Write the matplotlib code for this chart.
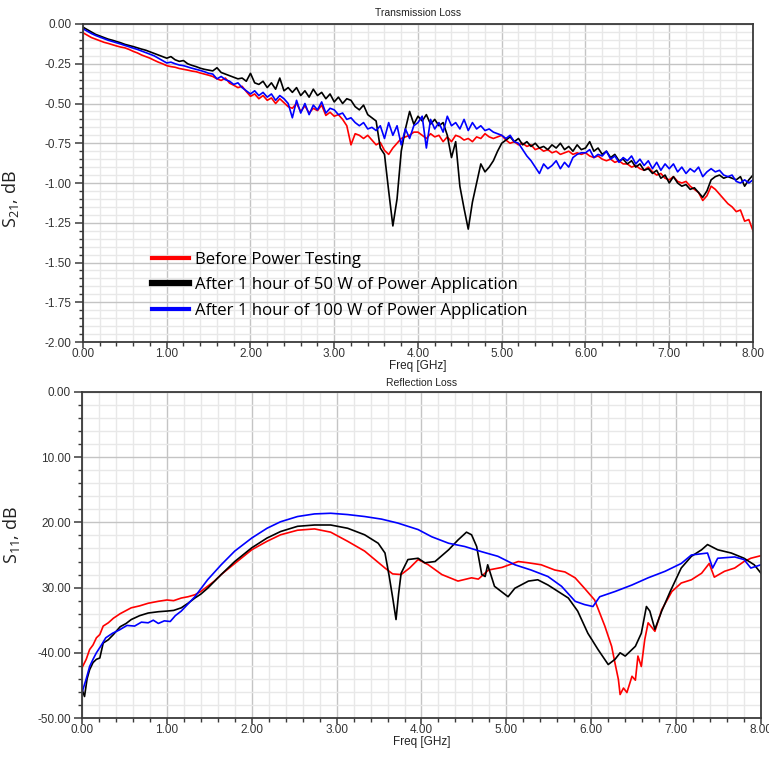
import numpy as np
import matplotlib
matplotlib.use("Agg")
import matplotlib.pyplot as plt
from matplotlib.ticker import MultipleLocator, FormatStrFormatter, FixedLocator, FixedFormatter
from matplotlib.lines import Line2D

plt.rcParams['axes.unicode_minus'] = False
plt.rcParams['mathtext.fontset'] = 'custom'
plt.rcParams['mathtext.rm'] = 'Open Sans'
plt.rcParams['mathtext.it'] = 'Open Sans'

# ---------------- Data: Transmission Loss (S21) ----------------
freq_s21 = np.round(np.arange(0, 8.001, 0.05), 2)

s21_before = [
    -0.055, -0.070, -0.085, -0.095, -0.105, -0.115, -0.122, -0.130, -0.138, -0.145,
    -0.150, -0.160, -0.172, -0.182, -0.195, -0.205, -0.215, -0.228, -0.240, -0.250,
    -0.262, -0.268, -0.272, -0.280, -0.285, -0.290, -0.296, -0.300, -0.308, -0.315,
    -0.322, -0.330, -0.345, -0.355, -0.340, -0.372, -0.385, -0.400, -0.392, -0.425,
    -0.455, -0.440, -0.470, -0.450, -0.480, -0.465, -0.500, -0.470, -0.495, -0.520,
    -0.530, -0.500, -0.550, -0.515, -0.560, -0.530, -0.545, -0.510, -0.575, -0.555,
    -0.580, -0.570, -0.600, -0.640, -0.760, -0.690, -0.700, -0.720, -0.700, -0.730,
    -0.760, -0.745, -0.795, -0.820, -0.780, -0.750, -0.720, -0.710, -0.700, -0.680,
    -0.680, -0.700, -0.720, -0.690, -0.710, -0.700, -0.740, -0.710, -0.740, -0.700,
    -0.710, -0.730, -0.720, -0.740, -0.710, -0.720, -0.690, -0.710, -0.720, -0.710,
    -0.700, -0.730, -0.750, -0.740, -0.760, -0.750, -0.770, -0.760, -0.790, -0.780,
    -0.800, -0.790, -0.810, -0.800, -0.820, -0.810, -0.800, -0.820, -0.810, -0.820,
    -0.810, -0.830, -0.840, -0.830, -0.850, -0.860, -0.850, -0.870, -0.860, -0.880,
    -0.880, -0.900, -0.890, -0.910, -0.920, -0.900, -0.930, -0.950, -0.940, -0.970,
    -0.980, -0.960, -0.990, -1.000, -0.990, -1.020, -1.040, -1.060, -1.110, -1.080,
    -1.020, -1.040, -1.070, -1.100, -1.130, -1.150, -1.180, -1.170, -1.240, -1.230,
    -1.300,
]

s21_50w = [
    -0.020, -0.035, -0.050, -0.065, -0.075, -0.085, -0.095, -0.102, -0.110, -0.118,
    -0.128, -0.135, -0.142, -0.150, -0.158, -0.165, -0.175, -0.185, -0.195, -0.205,
    -0.215, -0.205, -0.225, -0.235, -0.230, -0.250, -0.260, -0.268, -0.278, -0.285,
    -0.290, -0.295, -0.275, -0.305, -0.315, -0.325, -0.335, -0.345, -0.340, -0.360,
    -0.310, -0.370, -0.380, -0.360, -0.400, -0.370, -0.410, -0.340, -0.420, -0.400,
    -0.430, -0.400, -0.450, -0.420, -0.460, -0.410, -0.450, -0.430, -0.470, -0.440,
    -0.490, -0.460, -0.500, -0.470, -0.480, -0.520, -0.540, -0.510, -0.570, -0.590,
    -0.610, -0.780, -0.820, -1.050, -1.270, -1.100, -0.800, -0.660, -0.550, -0.630,
    -0.580, -0.610, -0.570, -0.630, -0.600, -0.640, -0.620, -0.700, -0.840, -0.740,
    -1.020, -1.160, -1.290, -1.120, -1.000, -0.880, -0.930, -0.900, -0.860, -0.800,
    -0.750, -0.730, -0.710, -0.740, -0.720, -0.760, -0.740, -0.770, -0.750, -0.780,
    -0.770, -0.790, -0.760, -0.780, -0.750, -0.790, -0.770, -0.800, -0.760, -0.790,
    -0.780, -0.740, -0.800, -0.780, -0.820, -0.800, -0.840, -0.820, -0.860, -0.850,
    -0.880, -0.860, -0.900, -0.880, -0.920, -0.910, -0.940, -0.920, -0.970, -0.950,
    -1.000, -0.960, -1.000, -1.020, -1.010, -1.040, -1.030, -1.060, -1.090, -1.050,
    -0.980, -0.960, -0.950, -0.970, -0.960, -0.970, -0.980, -0.960, -1.020, -0.980,
    -0.950,
]

s21_100w = [
    -0.030, -0.045, -0.060, -0.072, -0.082, -0.092, -0.102, -0.110, -0.118, -0.126,
    -0.135, -0.143, -0.152, -0.160, -0.170, -0.180, -0.190, -0.200, -0.215, -0.230,
    -0.245, -0.240, -0.250, -0.258, -0.262, -0.270, -0.278, -0.285, -0.292, -0.300,
    -0.310, -0.315, -0.345, -0.330, -0.350, -0.360, -0.380, -0.370, -0.400, -0.420,
    -0.440, -0.420, -0.450, -0.430, -0.460, -0.440, -0.480, -0.450, -0.470, -0.500,
    -0.590, -0.480, -0.560, -0.500, -0.570, -0.510, -0.540, -0.490, -0.560, -0.530,
    -0.540, -0.570, -0.560, -0.600, -0.590, -0.620, -0.640, -0.620, -0.660, -0.650,
    -0.670, -0.640, -0.720, -0.620, -0.700, -0.640, -0.760, -0.660, -0.720, -0.640,
    -0.620, -0.580, -0.780, -0.600, -0.660, -0.620, -0.680, -0.580, -0.640, -0.620,
    -0.660, -0.600, -0.670, -0.620, -0.660, -0.640, -0.670, -0.660, -0.680, -0.690,
    -0.700, -0.720, -0.700, -0.740, -0.750, -0.790, -0.830, -0.860, -0.900, -0.940,
    -0.880, -0.910, -0.890, -0.860, -0.910, -0.870, -0.900, -0.840, -0.820, -0.810,
    -0.810, -0.790, -0.840, -0.820, -0.830, -0.800, -0.850, -0.830, -0.870, -0.840,
    -0.860, -0.830, -0.880, -0.850, -0.890, -0.860, -0.910, -0.870, -0.920, -0.880,
    -0.910, -0.880, -0.930, -0.900, -0.940, -0.910, -0.930, -0.900, -0.960, -0.930,
    -0.910, -0.930, -0.920, -0.950, -0.960, -0.950, -0.990, -1.000, -0.980, -1.000,
    -0.980,
]

# ---------------- Data: Reflection Loss (S11) ----------------
freq_s11_before = [0.00, 0.05, 0.09, 0.13, 0.17, 0.21, 0.25, 0.31, 0.37, 0.45, 0.58, 0.68, 0.78, 0.90,
                   1.00, 1.08, 1.17, 1.25, 1.33, 1.40, 1.48, 1.56, 1.64, 1.80, 2.00, 2.18, 2.34,
                   2.54, 2.74, 2.93, 3.13, 3.33, 3.45, 3.57, 3.66, 3.76, 3.86, 3.96, 4.08, 4.24,
                   4.43, 4.59, 4.67, 4.79, 4.95, 5.14, 5.26, 5.41, 5.57, 5.69, 5.81, 5.92, 6.04,
                   6.16, 6.24, 6.28, 6.32, 6.34, 6.38, 6.42, 6.48, 6.52, 6.55, 6.59, 6.63, 6.67,
                   6.75, 6.83, 6.95, 7.06, 7.18, 7.30, 7.39, 7.45, 7.57, 7.69, 7.80, 7.88, 8.00]
s11_before = [-42.3, -41.0, -39.5, -38.8, -37.7, -37.2, -35.9, -35.4, -34.7, -34.0, -33.1, -32.8,
              -32.4, -32.1, -31.9, -32.0, -31.6, -31.4, -31.1, -30.6, -29.8, -29.0, -28.0, -26.3,
              -24.2, -22.9, -21.9, -21.2, -21.0, -21.5, -22.9, -24.4, -25.7, -27.0, -27.9, -28.0,
              -27.0, -25.7, -26.5, -28.0, -29.0, -28.5, -28.7, -27.3, -26.9, -26.0, -26.2, -26.5,
              -27.3, -27.6, -28.5, -30.1, -31.9, -35.9, -39.0, -41.6, -44.1, -46.4, -45.4, -46.1,
              -43.6, -44.2, -40.5, -42.1, -38.0, -35.4, -36.7, -33.4, -30.6, -29.3, -28.8, -27.8,
              -26.3, -28.4, -27.5, -27.0, -26.0, -25.5, -25.1]

freq_s11_50w = [0.00, 0.03, 0.06, 0.09, 0.13, 0.17, 0.21, 0.25, 0.31, 0.37, 0.45, 0.52, 0.58, 0.68,
                0.78, 0.90, 1.00, 1.08, 1.17, 1.25, 1.33, 1.40, 1.48, 1.64, 1.80, 2.00, 2.18, 2.34,
                2.54, 2.74, 2.93, 3.13, 3.33, 3.49, 3.57, 3.62, 3.66, 3.70, 3.73, 3.76, 3.84, 3.96,
                4.04, 4.16, 4.32, 4.43, 4.53, 4.59, 4.65, 4.71, 4.75, 4.78, 4.86, 5.02, 5.10, 5.26,
                5.37, 5.49, 5.61, 5.73, 5.84, 5.96, 6.08, 6.20, 6.28, 6.34, 6.40, 6.52, 6.59, 6.65,
                6.69, 6.75, 6.83, 6.93, 7.06, 7.18, 7.30, 7.37, 7.49, 7.65, 7.80, 7.92, 8.00]
s11_50w = [-45.6, -46.7, -44.0, -42.6, -41.5, -41.0, -40.8, -38.5, -38.0, -37.2, -36.0, -35.5,
           -34.9, -34.3, -33.9, -33.7, -33.6, -33.5, -33.1, -32.4, -31.6, -31.0, -30.1, -28.0,
           -26.0, -23.9, -22.4, -21.4, -20.6, -20.4, -20.4, -20.9, -21.9, -23.2, -24.7, -28.3,
           -31.5, -34.9, -31.0, -27.8, -25.7, -25.5, -26.2, -26.0, -24.2, -22.7, -21.5, -21.9,
           -23.7, -28.0, -28.3, -26.5, -29.8, -31.4, -30.1, -29.0, -28.8, -29.6, -30.6, -31.6,
           -33.6, -37.0, -39.5, -41.8, -41.0, -40.0, -40.5, -39.0, -37.0, -32.9, -33.6, -36.4,
           -33.6, -30.6, -27.0, -25.2, -24.2, -23.4, -24.2, -24.7, -25.5, -26.5, -27.8]

freq_s11_100w = [0.00, 0.05, 0.09, 0.13, 0.17, 0.22, 0.28, 0.36, 0.44, 0.53, 0.62, 0.70, 0.78,
                 0.84, 0.90, 0.97, 1.04, 1.10, 1.17, 1.25, 1.33, 1.48, 1.64, 1.80, 2.00, 2.18,
                 2.34, 2.54, 2.74, 2.93, 3.13, 3.33, 3.53, 3.72, 3.96, 4.12, 4.32, 4.51, 4.71,
                 4.90, 5.10, 5.29, 5.49, 5.65, 5.81, 5.92, 6.02, 6.10, 6.28, 6.48, 6.67, 6.87,
                 7.06, 7.18, 7.37, 7.43, 7.49, 7.69, 7.80, 7.88, 8.00]
s11_100w = [-46.1, -44.0, -42.1, -41.0, -40.0, -39.0, -37.7, -37.0, -36.5, -35.8, -35.9, -35.3,
            -35.4, -35.0, -35.5, -35.1, -35.2, -34.3, -33.6, -32.5, -31.4, -28.8, -26.5, -24.4,
            -22.4, -20.9, -19.9, -19.1, -18.7, -18.6, -18.8, -19.1, -19.5, -20.1, -21.1, -22.2,
            -23.2, -23.7, -24.5, -25.2, -26.5, -27.3, -28.3, -29.8, -32.1, -32.6, -32.9, -31.4,
            -30.6, -29.6, -28.5, -27.5, -26.3, -25.0, -24.7, -27.0, -25.5, -25.3, -25.7, -27.0,
            -26.5]

series_labels = ["Before Power Testing",
                 "After 1 hour of 50 W of Power Application",
                 "After 1 hour of 100 W of Power Application"]
series_colors = ["#ff0000", "#000000", "#0000ff"]

s21_yticks = [0.00, -0.25, -0.50, -0.75, -1.00, -1.25, -1.50, -1.75, -2.00]
s11_yticks = [0.0, -10.0, -20.0, -30.0, -40.0, -50.0]
s11_yticklabels = ["0.00", "10.00", "20.00", "30.00", "-40.00", "-50.00"]
xticks = [0, 1, 2, 3, 4, 5, 6, 7, 8]

# ---------------- Figure ----------------
fig = plt.figure(figsize=(7.69, 7.57), dpi=100)
ax1 = fig.add_axes([0.1079, 0.5482, 0.8713, 0.4201])
ax2 = fig.add_axes([0.1066, 0.0515, 0.8830, 0.4307])


def style_axes(ax):
    ax.set_xlim(0, 8)
    ax.xaxis.set_major_locator(FixedLocator(xticks))
    ax.xaxis.set_minor_locator(MultipleLocator(0.2))
    ax.xaxis.set_major_formatter(FormatStrFormatter('%.2f'))
    ax.grid(which='major', color='#c4c4c4', lw=1.0)
    ax.grid(which='minor', color='#e8e8e8', lw=1.0)
    ax.set_axisbelow(True)
    for sp in ax.spines.values():
        sp.set_color('#3a3a3a')
        sp.set_linewidth(1.3)
    ax.tick_params(which='major', length=6, width=1.1, color='#3a3a3a', pad=2,
                   labelsize=8.5, labelcolor='#333333')
    ax.tick_params(axis='x', which='major', length=4, pad=0.5)
    ax.tick_params(which='minor', length=3, width=1.0, color='#3a3a3a')
    for lab in ax.get_xticklabels() + ax.get_yticklabels():
        lab.set_family('Liberation Sans')


# Top chart
for vals, c in zip([s21_before, s21_50w, s21_100w], series_colors):
    ax1.plot(freq_s21, vals, color=c, lw=1.2)
ax1.set_ylim(-2.0, 0.0)
ax1.yaxis.set_major_locator(FixedLocator(s21_yticks))
ax1.yaxis.set_minor_locator(MultipleLocator(0.05))
ax1.yaxis.set_major_formatter(FormatStrFormatter('%.2f'))
style_axes(ax1)
ax1.set_title("Transmission Loss", fontsize=7.5, family='Liberation Sans', pad=6, color='#222222')
ax1.set_xlabel("Freq [GHz]", fontsize=8.5, family='Liberation Sans', labelpad=0, color='#222222')
ax1.set_ylabel(r"S$_{21}$, dB", fontsize=13, family='Open Sans', color='#222222')
ax1.yaxis.set_label_coords(-0.092, 0.45)

handles = [Line2D([], [], color=series_colors[0], lw=3),
           Line2D([], [], color=series_colors[1], lw=4.5),
           Line2D([], [], color=series_colors[2], lw=3)]
ax1.legend(handles, series_labels, loc='upper left', bbox_to_anchor=(0.103, 0.283),
           frameon=False, handlelength=2.2, handletextpad=0.35, labelspacing=0.55,
           prop=dict(family='Open Sans', size=12.1), borderpad=0, borderaxespad=0)

# Bottom chart
for fx, vals, c in zip([freq_s11_before, freq_s11_50w, freq_s11_100w],
                       [s11_before, s11_50w, s11_100w], series_colors):
    ax2.plot(fx, vals, color=c, lw=1.2)
ax2.set_ylim(-50, 0)
ax2.yaxis.set_major_locator(FixedLocator(s11_yticks))
ax2.yaxis.set_major_formatter(FixedFormatter(s11_yticklabels))
ax2.yaxis.set_minor_locator(MultipleLocator(2))
style_axes(ax2)
ax2.set_title("Reflection Loss", fontsize=7.5, family='Liberation Sans', pad=4, color='#222222')
ax2.set_xlabel("Freq [GHz]", fontsize=8.5, family='Liberation Sans', labelpad=0, color='#222222')
ax2.set_ylabel(r"S$_{11}$, dB", fontsize=13, family='Open Sans', color='#222222')
ax2.yaxis.set_label_coords(-0.088, 0.56)

fig.savefig("out.png", dpi=100)
